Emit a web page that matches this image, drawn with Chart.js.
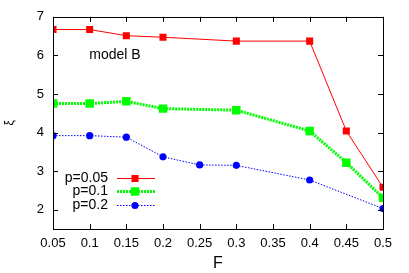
<!DOCTYPE html>
<html><head><meta charset="utf-8">
<script src="https://cdn.jsdelivr.net/npm/chart.js@4"></script>
<style>html,body{margin:0;padding:0;background:#fff;}#wrap{width:409px;height:273px;}</style>
</head><body><div id="wrap"><canvas id="c"></canvas></div>
<script>
const xTicks = [0.05,0.1,0.15,0.2,0.25,0.3,0.35,0.4,0.45,0.5];
const yTicks = [2,3,4,5,6,7];
const fRed = [0.05,0.1,0.15,0.2,0.3,0.4,0.45,0.5];
const valRed = [6.67,6.67,6.51,6.47,6.37,6.37,4.04,2.58];
const fGreen = [0.05,0.1,0.15,0.2,0.3,0.4,0.45,0.5];
const valGreen = [4.75,4.75,4.81,4.62,4.58,4.04,3.22,2.31];
const fBlue = [0.05,0.1,0.15,0.2,0.25,0.3,0.4,0.5];
const valBlue = [3.92,3.92,3.88,3.37,3.16,3.15,2.77,2.03];
const seriesNames = ['p=0.05','p=0.1','p=0.2'];
const FONT = '"Liberation Sans", Arial, sans-serif';

const pts = (xs, ys) => xs.map((x,i)=>({x:x,y:ys[i]}));

const styles = [
  {color:'#ff0000', width:1, dash:[], pstyle:'rect', r:5},
  {color:'#00ff00', width:3, dash:[2,1], pstyle:'rect', r:6},
  {color:'#0000ff', width:1, dash:[1.5,1.5], pstyle:'circle', r:3.6}
];
const allData = [pts(fRed,valRed), pts(fGreen,valGreen), pts(fBlue,valBlue)];

const datasets = allData.map((d,i)=>({
  label: seriesNames[i], data: d,
  borderColor: styles[i].color, backgroundColor: styles[i].color,
  borderWidth: styles[i].width, borderDash: styles[i].dash,
  pointStyle: styles[i].pstyle, pointRadius: styles[i].r,
  pointBorderWidth: 0, pointBackgroundColor: styles[i].color,
  showLine: true, tension: 0
}));

const framePlugin = {
  id:'frame',
  afterDraw(chart){
    const ctx = chart.ctx, a = chart.chartArea;
    const xs = chart.scales.x, ys = chart.scales.y;
    ctx.save();
    ctx.strokeStyle = '#000'; ctx.lineWidth = 1; ctx.setLineDash([]);
    ctx.strokeRect(Math.round(a.left)+0.5, Math.round(a.top)+0.5, Math.round(a.right-a.left), Math.round(a.bottom-a.top));
    ctx.beginPath();
    xTicks.forEach(v=>{
      const px = Math.round(xs.getPixelForValue(v))+0.5;
      ctx.moveTo(px, a.bottom); ctx.lineTo(px, a.bottom-5);
      ctx.moveTo(px, a.top); ctx.lineTo(px, a.top+5);
    });
    yTicks.forEach(v=>{
      const py = Math.round(ys.getPixelForValue(v))+0.5;
      ctx.moveTo(a.left, py); ctx.lineTo(a.left+5, py);
      ctx.moveTo(a.right, py); ctx.lineTo(a.right-5, py);
    });
    ctx.stroke();
    // annotation
    ctx.fillStyle = '#000';
    ctx.font = '14px ' + FONT;
    ctx.textAlign = 'center'; ctx.textBaseline = 'middle';
    ctx.fillText('model B', 115, 55);
    // legend
    const rows = [178, 191, 205];
    ctx.font = '14px ' + FONT;
    rows.forEach((y,i)=>{
      const s = styles[i];
      ctx.fillStyle = '#000'; ctx.textAlign = 'right';
      ctx.fillText(seriesNames[i], 108, y);
      ctx.strokeStyle = s.color; ctx.lineWidth = s.width; ctx.setLineDash(s.dash);
      ctx.beginPath(); ctx.moveTo(117, y+0.5); ctx.lineTo(155, y+0.5); ctx.stroke();
      ctx.setLineDash([]);
      ctx.fillStyle = s.color;
      if (s.pstyle === 'rect') {
        const h = s.r*Math.SQRT1_2;
        ctx.fillRect(135-h, y+0.5-h, 2*h, 2*h);
      } else {
        ctx.beginPath(); ctx.arc(135, y+0.5, s.r, 0, Math.PI*2); ctx.fill();
      }
    });
    ctx.restore();
  }
};

new Chart(document.getElementById('c'), {
  type:'scatter',
  data:{datasets},
  options:{
    responsive:true, maintainAspectRatio:false, animation:false,
    layout:{padding:{left:0, top:16, right:26, bottom:0}},
    plugins:{legend:{display:false}, tooltip:{enabled:false}},
    scales:{
      x:{
        type:'linear', min:0.05, max:0.5,
        afterBuildTicks:(s)=>{ s.ticks = xTicks.map(v=>({value:v})); },
        afterFit:(s)=>{ s.height = 44; },
        grid:{display:false, drawTicks:false},
        border:{display:false},
        ticks:{color:'#000', font:{family:FONT, size:13}, padding:7, maxRotation:0, autoSkip:false,
          callback:(v)=>String(+(+v).toFixed(2))},
        title:{display:true, text:'F', color:'#000', font:{family:FONT, size:16}, padding:{top:2,bottom:0}}
      },
      y:{
        type:'linear', min:1.5, max:7,
        afterBuildTicks:(s)=>{ s.ticks = yTicks.map(v=>({value:v})); },
        afterFit:(s)=>{ s.width = 53; },
        grid:{display:false, drawTicks:false},
        border:{display:false},
        ticks:{color:'#000', font:{family:FONT, size:13}, padding:9, autoSkip:false,
          callback:(v)=>String(v)},
        title:{display:true, text:'ξ', color:'#000', font:{family:FONT, size:12}, padding:{top:2,bottom:0}}
      }
    }
  },
  plugins:[framePlugin]
});
</script></body></html>
